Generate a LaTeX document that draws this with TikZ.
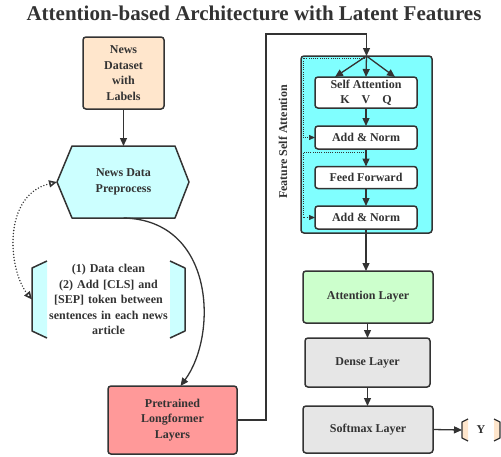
\documentclass[tikz,border=0pt]{standalone}
\usepackage{fontspec}
\setmainfont{Liberation Serif}
\usetikzlibrary{arrows.meta,calc,backgrounds}

\definecolor{ink}{HTML}{333333}
\definecolor{peach}{HTML}{FFE6CC}
\definecolor{palecyan}{HTML}{CCFFFF}
\definecolor{brightcyan}{HTML}{80FFFF}
\definecolor{salmon}{HTML}{FF9999}
\definecolor{mint}{HTML}{CCFFCC}
\definecolor{boxgray}{HTML}{E6E6E6}

\tikzset{
  txt/.style={align=center, text=ink, outer sep=0pt, inner sep=2pt,
    font=\fontsize{12}{15.5}\selectfont\bfseries},
  box/.style={txt, draw=ink, line width=1.5pt, rounded corners=3pt},
  arr/.style={draw=ink, line width=1.3pt, -{Triangle[length=8pt,width=7pt]}},
  res/.style={draw=ink, line width=0.7pt, dash pattern=on 0.7pt off 1.5pt,
    -{Triangle[length=6pt,width=5pt]}},
  loop/.style={draw=ink, line width=1.6pt, line cap=round, dash pattern=on 0pt off 3pt,
    {Triangle[open,length=8pt,width=7pt,line cap=butt]}-{Triangle[open,length=8pt,width=7pt,line cap=butt]}},
  brace/.style={draw=ink, line width=1.5pt, line join=round}
}

\begin{document}
\begin{tikzpicture}[x=1pt,y=-1pt]
  \useasboundingbox (0,0) rectangle (501,456);

  \node[txt, font=\fontsize{21}{24}\selectfont\bfseries] (title) at (254,13) {Attention-based Architecture with Latent Features};

  % left column
  \node[box, fill=peach, minimum width=81pt, minimum height=72pt] (data) at (123.5,73) {News\\Dataset\\with\\Labels};
  \node[txt, minimum width=103pt, minimum height=72pt] (prep) at (123.5,182) {News Data\\Preprocess};
  \coordinate (prepw) at ($(prep.west)+(-15,0)$);
  \begin{scope}[on background layer]
    \draw[brace, fill=palecyan] (prep.north west) -- (prep.north east) -- ($(prep.east)+(14,0)$) -- (prep.south east)
      -- (prep.south west) -- (prepw) -- cycle;
  \end{scope}

  \node[txt, text width=124pt, minimum width=153pt, minimum height=77pt] (note) at (108.5,299.5)
    {(1) Data clean\\(2) Add [CLS] and\\{[SEP]} token between\\sentences in each news\\article};
  \begin{scope}[on background layer]
    \fill[palecyan] ($(note.north west)+(15,0)$) -- ($(note.north west)+(0,7)$) -- ($(note.south west)+(0,-7)$)
      -- ($(note.south west)+(15,0)$) -- cycle;
    \fill[palecyan] ($(note.north east)+(-15,0)$) -- ($(note.north east)+(0,7)$) -- ($(note.south east)+(0,-7)$)
      -- ($(note.south east)+(-15,0)$) -- cycle;
  \end{scope}
  \draw[brace] ($(note.north west)+(15,0)$) -- ($(note.north west)+(0,7)$) -- ($(note.south west)+(0,-7)$) -- ($(note.south west)+(15,0)$);
  \draw[brace] ($(note.north east)+(-15,0)$) -- ($(note.north east)+(0,7)$) -- ($(note.south east)+(0,-7)$) -- ($(note.south east)+(-15,0)$);

  \node[box, fill=salmon, minimum width=129pt, minimum height=68pt] (plt) at (172.5,420) {Pretrained\\Longformer\\Layers};

  % feature self attention block
  \node[box, fill=brightcyan, minimum width=131pt, minimum height=177pt] (fsa) at (366.5,144.5) {};
  \node[txt, rotate=90] (fsalbl) at (283,142) {Feature Self Attention};
  \node[box, fill=white, minimum width=102pt, minimum height=31pt] (sa) at (366,92.5) {Self Attention\\K\hspace{12pt}V\hspace{12pt}Q};
  \node[box, fill=white, minimum width=102pt, minimum height=23pt] (an1) at (366,137.5) {Add \& Norm};
  \node[box, fill=white, minimum width=102pt, minimum height=22pt] (ff) at (366,177.5) {Feed Forward};
  \node[box, fill=white, minimum width=102pt, minimum height=23pt] (an2) at (366,217.5) {Add \& Norm};

  % right column
  \node[box, fill=mint, minimum width=130pt, minimum height=52pt] (att) at (368,297) {Attention Layer};
  \node[box, fill=boxgray, minimum width=125pt, minimum height=49pt] (dense) at (367.5,362.5) {Dense Layer};
  \node[box, fill=boxgray, minimum width=130pt, minimum height=47pt] (soft) at (368,429.5) {Softmax Layer};

  \node[txt, minimum width=38pt, minimum height=22pt] (yout) at (481,430) {Y};
  \begin{scope}[on background layer]
    \fill[peach] ($(yout.north west)+(6,0)$) -- ($(yout.north west)+(0,3)$) -- ($(yout.south west)+(0,-3)$) -- ($(yout.south west)+(6,0)$) -- cycle;
    \fill[peach] ($(yout.north east)+(-6,0)$) -- ($(yout.north east)+(0,3)$) -- ($(yout.south east)+(0,-3)$) -- ($(yout.south east)+(-6,0)$) -- cycle;
  \end{scope}
  \draw[brace, line width=1.2pt] ($(yout.north west)+(6,0)$) -- ($(yout.north west)+(0,3)$) -- ($(yout.south west)+(0,-3)$) -- ($(yout.south west)+(6,0)$);
  \draw[brace, line width=1.2pt] ($(yout.north east)+(-6,0)$) -- ($(yout.north east)+(0,3)$) -- ($(yout.south east)+(0,-3)$) -- ($(yout.south east)+(-6,0)$);

  % connectors
  \draw[arr] (data) -- (prep);
  \draw[loop] (prepw) .. controls (2,195) and (8,270) .. (note.west);
  \draw[arr] (prep.south) .. controls (215,220) and (218,335) .. ($(plt.north)+(8,0)$);
  \coordinate (turn) at (266,34);
  \draw[arr] (plt.east) -| (turn) -| (fsa.north);

  \draw[arr] (fsa.north) -- ($(sa.north)+(-31,0)$);
  \draw[arr] (fsa.north) -- (sa.north);
  \draw[arr] (fsa.north) -- ($(sa.north)+(29,0)$);
  \draw[arr] (sa) -- (an1);
  \draw[arr] (an1) -- (ff);
  \draw[arr] (ff) -- (an2);
  \draw[res] ($(fsa.north)+(0,2)$) -- ($(fsa.north west)+(2,2)$) |- (an1.west);
  \draw[res] ($(an1.south)+(0,3)$) -- ($(an1.south -| fsa.west)+(2,3)$) |- (an2.west);

  \draw[arr] (an2.south) -- (an2.south |- att.north);
  \draw[arr] (att.south -| dense.north) -- (dense.north);
  \draw[arr] (dense.south) -- (dense.south |- soft.north);
  \draw[arr] (soft.east) -- (yout.west);
\end{tikzpicture}
\end{document}
